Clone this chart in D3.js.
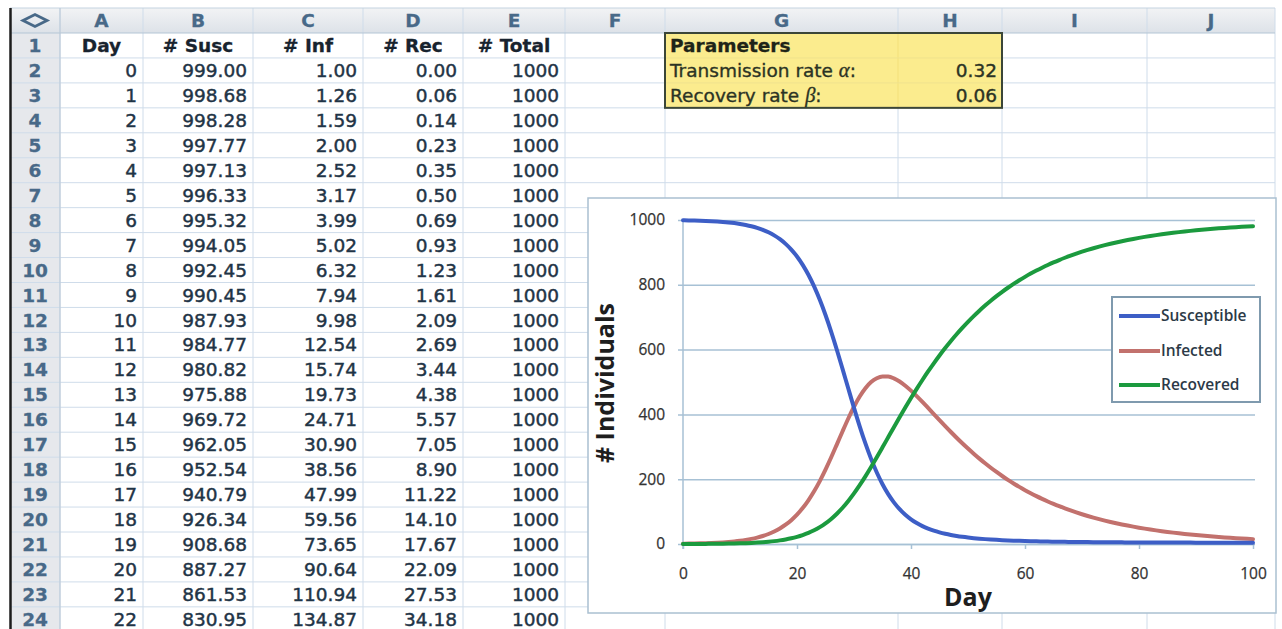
<!DOCTYPE html>
<html><head><meta charset="utf-8">
<script src="https://cdn.jsdelivr.net/npm/d3@7"></script>
<style>html,body{margin:0;padding:0;background:#fff;overflow:hidden}</style>
</head><body><svg id="c" width="1282" height="629"></svg>
<script>
// ---------------- DATA ----------------
const days = [0,1,2,3,4,5,6,7,8,9,10,11,12,13,14,15,16,17,18,19,20,21,22,23,24,25,26,27,28,29,30,31,32,33,34,35,36,37,38,39,40,41,42,43,44,45,46,47,48,49,50,51,52,53,54,55,56,57,58,59,60,61,62,63,64,65,66,67,68,69,70,71,72,73,74,75,76,77,78,79,80,81,82,83,84,85,86,87,88,89,90,91,92,93,94,95,96,97,98,99,100];
const susceptible = [999.00,998.68,998.28,997.77,997.13,996.33,995.32,994.05,992.45,990.45,987.93,984.77,980.82,975.88,969.72,962.05,952.54,940.79,926.34,908.68,887.27,861.53,830.95,795.09,753.71,706.86,654.96,598.88,539.93,479.79,420.32,363.35,310.43,262.67,220.67,184.54,154.00,128.54,107.52,90.27,76.16,64.62,55.18,47.44,41.06,35.79,31.41,27.75,24.68,22.09,19.89,18.02,16.41,15.03,13.83,12.79,11.88,11.08,10.38,9.76,9.21,8.72,8.28,7.89,7.54,7.22,6.93,6.67,6.44,6.23,6.04,5.86,5.70,5.55,5.41,5.28,5.16,5.05,4.95,4.86,4.78,4.70,4.63,4.56,4.50,4.44,4.39,4.34,4.29,4.25,4.21,4.17,4.14,4.11,4.08,4.05,4.02,4.00,3.98,3.96,3.94];
const infected = [1.00,1.26,1.59,2.00,2.52,3.17,3.99,5.02,6.32,7.94,9.98,12.54,15.74,19.73,24.71,30.90,38.56,47.99,59.56,73.65,90.64,110.94,134.87,162.64,194.26,229.45,267.58,307.61,348.10,387.35,423.58,455.14,480.75,499.66,511.68,517.11,516.62,511.08,501.44,488.60,473.39,456.53,438.58,420.01,401.19,382.39,363.83,345.66,327.99,310.90,294.45,278.65,263.54,249.11,235.36,222.28,209.85,198.06,186.88,176.29,166.26,156.77,147.80,139.32,131.31,123.75,116.61,109.87,103.51,97.51,91.85,86.52,81.49,76.75,72.28,68.07,64.11,60.37,56.85,53.53,50.40,47.46,44.68,42.07,39.61,37.29,35.10,33.04,31.11,29.28,27.56,25.95,24.42,22.98,21.63,20.36,19.17,18.04,16.98,15.98,15.04];
const recovered = [0.00,0.06,0.14,0.23,0.35,0.50,0.69,0.93,1.23,1.61,2.09,2.69,3.44,4.38,5.57,7.05,8.90,11.22,14.10,17.67,22.09,27.53,34.18,42.27,52.03,63.69,77.46,93.51,111.97,132.86,156.10,181.51,208.82,237.67,267.65,298.35,329.38,360.38,391.04,421.13,450.45,478.85,506.24,532.55,557.75,581.82,604.76,626.59,647.33,667.01,685.66,703.33,720.05,735.86,750.81,764.93,778.27,790.86,802.74,813.95,824.53,834.51,843.92,852.79,861.15,869.03,876.46,883.46,890.05,896.26,902.11,907.62,912.81,917.70,922.31,926.65,930.73,934.58,938.20,941.61,944.82,947.84,950.69,953.37,955.89,958.27,960.51,962.62,964.60,966.47,968.23,969.88,971.44,972.91,974.29,975.59,976.81,977.96,979.04,980.06,981.02];
const totalPopulation = 1000;
const columnLetters = ["A","B","C","D","E","F","G","H","I","J"];
const tableHeaders = ["Day","# Susc","# Inf","# Rec","# Total"];
const tableDays = 23; // rows 2..24 show days 0..22
const paramLabels = ["Transmission rate ", "Recovery rate "];
const paramSymbols = ["\u03B1", "\u03B2"];
const paramValues = ["0.32", "0.06"];
const seriesNames = ["Susceptible","Infected","Recovered"];
const xTicks = [0,20,40,60,80,100];
const yTicks = [0,200,400,600,800,1000];

// ---------------- LAYOUT ----------------
const svg = d3.select("#c");
const SF = "'DejaVu Sans', Verdana, sans-serif";
const CF = "'Open Sans', 'DejaVu Sans', sans-serif";
const defs = svg.append("defs");
const hg = defs.append("linearGradient").attr("id","hg").attr("x1",0).attr("y1",0).attr("x2",0).attr("y2",1);
hg.append("stop").attr("offset","0").attr("stop-color","#f2f3f5");
hg.append("stop").attr("offset","1").attr("stop-color","#dde2e8");

const edges = [10,60,143,253,363,463,565,665,898,1002,1147,1275];
const TOP = 8, HEAD = 33, RH = 24.95, NROWS = 24, FS = 18.5;
const rowTop = k => HEAD + (k-1)*RH;
const rowBase = k => rowTop(k) + RH/2 + 6.6;

// backgrounds
svg.append("rect").attr("x",10).attr("y",HEAD).attr("width",50).attr("height",629-HEAD).attr("fill","#e6e8ec");
svg.append("rect").attr("x",10).attr("y",TOP).attr("width",1265).attr("height",HEAD-TOP).attr("fill","url(#hg)");

// grid
const grid = svg.append("g").attr("stroke","#cfdcea").attr("stroke-width",1);
d3.range(1, NROWS+1).forEach(k => {
  const y = rowTop(k)+RH;
  grid.append("line").attr("x1",10).attr("x2",1275).attr("y1",y).attr("y2",y);
});
edges.slice(1).forEach(x => grid.append("line").attr("x1",x).attr("x2",x).attr("y1",TOP).attr("y2",629));
svg.append("line").attr("x1",10).attr("x2",1275).attr("y1",TOP).attr("y2",TOP).attr("stroke","#c4d3e0");
svg.append("line").attr("x1",10).attr("x2",1275).attr("y1",HEAD).attr("y2",HEAD).attr("stroke","#b4c5d6").attr("stroke-width",1.2);
svg.append("line").attr("x1",60).attr("x2",60).attr("y1",TOP).attr("y2",629).attr("stroke","#b9c8d6");
svg.append("line").attr("x1",10.5).attr("x2",10.5).attr("y1",TOP).attr("y2",629).attr("stroke","#1c1c1c").attr("stroke-width",2.5);

// text helper: slight stroke to mimic the heavier rendering of the screenshot
const heavy = (sel, c, w) => sel.attr("fill",c).attr("stroke",c).attr("stroke-width",w).attr("paint-order","stroke");

// header letters
const hdrColor = "#486988";
svg.append("path").attr("d","M23,20.5 L35,14.5 L47,20.5 L35,26.5 Z").attr("fill","none").attr("stroke",hdrColor).attr("stroke-width",2.8);
columnLetters.forEach((L,i) => {
  heavy(svg.append("text").attr("x",(edges[i+1]+edges[i+2])/2).attr("y",27.3).attr("text-anchor","middle")
    .attr("font-family",SF).attr("font-weight","bold").attr("font-size",FS).text(L), hdrColor, 0.3);
});
// row numbers
d3.range(1, NROWS+1).forEach(k => {
  heavy(svg.append("text").attr("x",35).attr("y",rowBase(k)).attr("text-anchor","middle")
    .attr("font-family",SF).attr("font-weight","bold").attr("font-size",FS).text(k), hdrColor, 0.3);
});
// table headers
tableHeaders.forEach((h,i) => {
  heavy(svg.append("text").attr("x",(edges[i+1]+edges[i+2])/2).attr("y",rowBase(1)).attr("text-anchor","middle")
    .attr("font-family",SF).attr("font-weight","bold").attr("font-size",FS).text(h), "#18232e", 0.3);
});
// table data
const f2 = d3.format(".2f");
const cellColor = "#1f3446";
for (let r = 0; r < tableDays; r++) {
  const tot = Math.round(susceptible[r]+infected[r]+recovered[r]);
  const vals = [String(days[r]), f2(susceptible[r]), f2(infected[r]), f2(recovered[r]), String(tot === totalPopulation ? totalPopulation : tot)];
  vals.forEach((v,i) => {
    heavy(svg.append("text").attr("x",edges[i+2]-6).attr("y",rowBase(r+2)).attr("text-anchor","end")
      .attr("font-family",SF).attr("font-size",FS).text(v), cellColor, 0.45);
  });
}

// parameters box
const pb = svg.append("g");
pb.append("rect").attr("x",665).attr("y",HEAD).attr("width",1002-665).attr("height",3*RH).attr("fill","#fbec8e");
pb.append("line").attr("x1",898).attr("x2",898).attr("y1",HEAD).attr("y2",HEAD+3*RH).attr("stroke","#f3e07a");
[1,2].forEach(k => pb.append("line").attr("x1",665).attr("x2",1002).attr("y1",HEAD+k*RH).attr("y2",HEAD+k*RH).attr("stroke","#efe28e"));
pb.append("rect").attr("x",665).attr("y",HEAD).attr("width",1002-665).attr("height",3*RH).attr("fill","none").attr("stroke","#3b4638").attr("stroke-width",2);
heavy(pb.append("text").attr("x",670).attr("y",rowBase(1)).attr("font-family",SF).attr("font-weight","bold").attr("font-size",FS).text("Parameters"), "#1e2418", 0.3);
paramLabels.forEach((lab,i) => {
  const t = heavy(pb.append("text").attr("x",670).attr("y",rowBase(i+2)).attr("font-family",SF).attr("font-size",FS), "#2b3324", 0.35);
  t.append("tspan").text(lab);
  t.append("tspan").attr("font-family","'Liberation Serif', serif").attr("font-style","italic").attr("font-size",FS+2).text(paramSymbols[i]);
  t.append("tspan").text(":");
  heavy(pb.append("text").attr("x",997).attr("y",rowBase(i+2)).attr("text-anchor","end").attr("font-family",SF).attr("font-size",FS).text(paramValues[i]), "#2b3324", 0.4);
});

// ---------------- CHART ----------------
const ch = svg.append("g");
ch.append("rect").attr("x",588).attr("y",198).attr("width",688).attr("height",415).attr("fill","#fff").attr("stroke","#aac0d1").attr("stroke-width",1.5);
const x = d3.scaleLinear().domain([0,100]).range([683,1253]);
const y = d3.scaleLinear().domain([0,1000]).range([544,220]);
const axisColor = "#a7c1d5";
const gy = ch.append("g").attr("transform","translate(678,0)")
  .call(d3.axisLeft(y).tickValues(yTicks).tickSize(-(1255-678)).tickPadding(13).tickFormat(d3.format("d")));
gy.select(".domain").remove();
gy.selectAll(".tick line").attr("stroke",axisColor).attr("stroke-width",1.5);
gy.selectAll(".tick text").attr("font-family",CF).attr("font-size",15.5).attr("fill","#333").attr("stroke","#333").attr("stroke-width",0.25);
const gx = ch.append("g").attr("transform","translate(0,544)")
  .call(d3.axisBottom(x).tickValues(xTicks).tickSize(5).tickSizeOuter(0).tickPadding(18.5).tickFormat(d3.format("d")));
gx.select(".domain").attr("stroke",axisColor).attr("stroke-width",1.5);
gx.selectAll(".tick line").attr("stroke",axisColor).attr("stroke-width",1.5);
gx.selectAll(".tick text").attr("font-family",CF).attr("font-size",15.5).attr("fill","#333").attr("stroke","#333").attr("stroke-width",0.25);
ch.append("line").attr("x1",683).attr("x2",683).attr("y1",220).attr("y2",549).attr("stroke",axisColor).attr("stroke-width",1.5);

const colors = {Susceptible:"#3d5ec6", Infected:"#c2716d", Recovered:"#1b9a3e"};
const seriesData = {Susceptible:susceptible, Infected:infected, Recovered:recovered};
const line = vals => d3.line().x((d,i)=>x(days[i])).y(d=>y(d)).curve(d3.curveMonotoneX)(vals);
["Infected","Susceptible","Recovered"].forEach(n => {
  ch.append("path").attr("d",line(seriesData[n])).attr("fill","none").attr("stroke",colors[n])
    .attr("stroke-width",4).attr("stroke-linejoin","round").attr("stroke-linecap","round");
});

// axis titles
ch.append("text").attr("x",968).attr("y",606).attr("text-anchor","middle").attr("font-family",CF)
  .attr("font-weight","bold").attr("font-size",25).attr("fill","#1e1e1e").text("Day");
ch.append("text").attr("transform","translate(614,383) rotate(-90)").attr("text-anchor","middle").attr("font-family",CF)
  .attr("font-weight","bold").attr("font-size",25).attr("fill","#1e1e1e").text("# Individuals");

// legend
const lg = ch.append("g");
lg.append("rect").attr("x",1112).attr("y",297).attr("width",148).attr("height",105).attr("fill","#fff").attr("stroke","#7f9aae").attr("stroke-width",2);
const legY = [316,351,385];
seriesNames.forEach((n,i) => {
  lg.append("line").attr("x1",1119).attr("x2",1160).attr("y1",legY[i]).attr("y2",legY[i]).attr("stroke",colors[n]).attr("stroke-width",4);
  lg.append("text").attr("x",1161).attr("y",legY[i]).attr("dy","0.35em").attr("font-family",CF).attr("font-weight",600)
    .attr("font-size",15.5).attr("fill","#2c3a47").text(n);
});
</script></body></html>
